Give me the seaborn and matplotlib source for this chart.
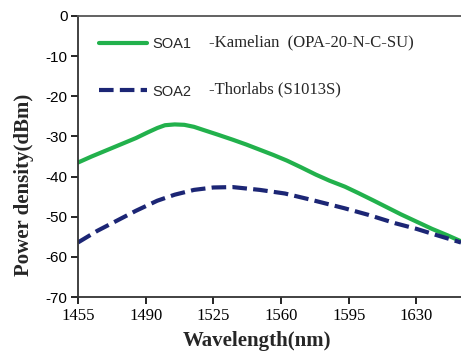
import numpy as np
import pandas as pd
import matplotlib
matplotlib.use('Agg')
import matplotlib.pyplot as plt
import seaborn as sns

# values
wl_soa1 = [1455, 1462, 1470, 1478, 1485, 1491, 1496, 1500, 1505, 1510, 1515,
           1520, 1527, 1535, 1542, 1549, 1556, 1563, 1570, 1578, 1585, 1593,
           1600, 1608, 1615, 1622, 1630, 1638, 1646, 1653]
pd_soa1 = [-36.5, -35.0, -33.4, -31.8, -30.4, -29.0, -27.9, -27.2, -27.0, -27.1, -27.6,
           -28.4, -29.5, -30.8, -32.0, -33.3, -34.6, -36.0, -37.6, -39.5, -41.0, -42.5,
           -44.1, -46.0, -47.7, -49.4, -51.2, -53.0, -54.6, -56.1]

wl_soa2 = [1455, 1465, 1475, 1485, 1496, 1505, 1515, 1525, 1535, 1549, 1562,
           1575, 1593, 1605, 1619, 1630, 1640, 1653]
pd_soa2 = [-56.4, -53.5, -51.0, -48.5, -46.0, -44.5, -43.3, -42.7, -42.6, -43.3,
           -44.2, -45.7, -47.9, -49.5, -51.6, -53.0, -54.5, -56.4]

series_names = ["SOA1", "SOA2"]
series_notes = ["-Kamelian  (OPA-20-N-C-SU)", "-Thorlabs (S1013S)"]
x_ticks = [1455, 1490, 1525, 1560, 1595, 1630]
y_ticks = [0, -10, -20, -30, -40, -50, -60, -70]

green = "#22b14c"
navy = "#1c2675"

df = pd.concat([
    pd.DataFrame({"wl": wl_soa1, "p": pd_soa1, "s": series_names[0]}),
    pd.DataFrame({"wl": wl_soa2, "p": pd_soa2, "s": series_names[1]}),
])

sns.set_style("ticks")
plt.rcParams['font.family'] = ['Liberation Sans', 'DejaVu Sans']

fig = plt.figure(figsize=(4.61, 3.55), dpi=100)
ax = fig.add_axes([0.169, 0.163, 0.831, 0.792])

sns.lineplot(data=df, x="wl", y="p", hue="s", style="s",
             palette={"SOA1": green, "SOA2": navy},
             dashes={"SOA1": "", "SOA2": (3.5, 1.5)},
             linewidth=3.0, ax=ax, legend=False)

ax.set_xlim(1455, 1653)
ax.set_ylim(-70, 0)
ax.set_xticks(x_ticks)
ax.set_yticks(y_ticks)
ax.set_yticklabels([str(v) for v in y_ticks], fontsize=11)
ax.set_xticklabels([str(v) for v in x_ticks], fontsize=12, family='Liberation Serif')
ax.tick_params(direction='out', length=5, width=1.2, colors='black', pad=2.5)

for side in ['left', 'bottom', 'top']:
    ax.spines[side].set_visible(True)
    ax.spines[side].set_linewidth(1.3)
ax.spines['top'].set_color('#555555')
ax.spines['left'].set_color('#333333')
ax.spines['bottom'].set_color('#333333')
ax.spines['right'].set_visible(False)

ax.set_xlabel("Wavelength(nm)", fontsize=15, fontweight='bold', family='Liberation Serif')
ax.set_ylabel("Power density(dBm)", fontsize=15, fontweight='bold', family='Liberation Serif')
ax.xaxis.set_label_coords(0.467, -0.122)
ax.yaxis.set_label_coords(-0.115, 0.40)

handles = [plt.Line2D([], [], color=green, lw=3.0),
           plt.Line2D([], [], color=navy, lw=3.0, dashes=(3.5, 1.5))]
ax.legend(handles, series_names, loc='upper left', bbox_to_anchor=(0.055, 0.925),
          frameon=False, fontsize=10.5, handlelength=3.3, handletextpad=0.35,
          labelspacing=2.3, borderpad=0, borderaxespad=0)

ax.text(1523, -6.5, series_notes[0], fontsize=12, family='Liberation Serif', va='center')
ax.text(1523, -18.4, series_notes[1], fontsize=12, family='Liberation Serif', va='center')

fig.savefig("out.png", dpi=100)
